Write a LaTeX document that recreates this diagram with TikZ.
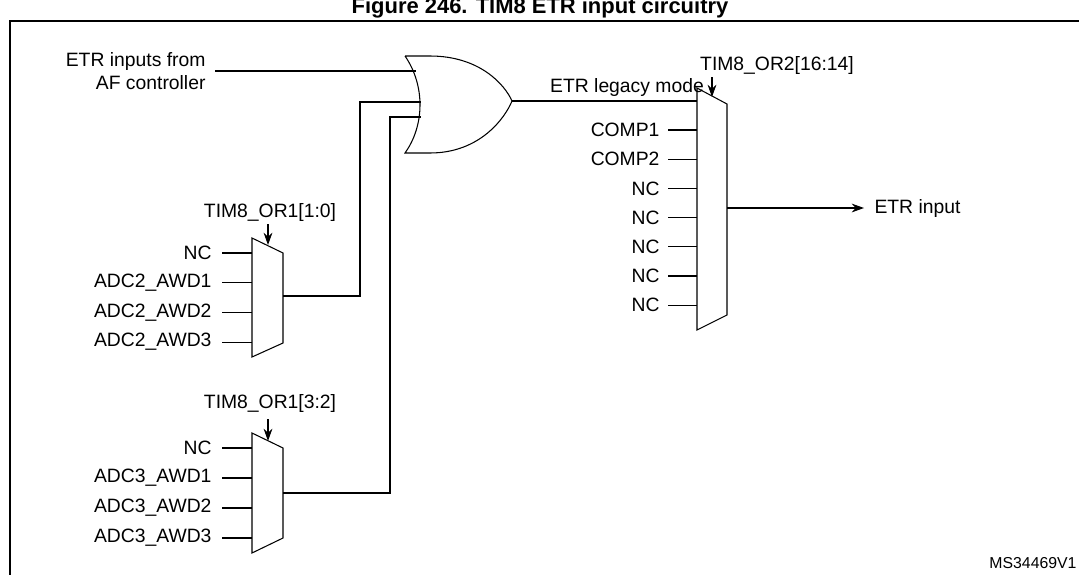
\documentclass[tikz,border=0pt]{standalone}
\usepackage{fontspec}
\setmainfont{Liberation Sans}
\usetikzlibrary{arrows.meta}
\usetikzlibrary{positioning}
\tikzset{
  lbl/.style={anchor=east, inner sep=0pt, font=\fontsize{11}{13}\selectfont},
  txt/.style={inner sep=0pt, font=\fontsize{11}{13}\selectfont},
  sel/.style={-{Stealth[length=7pt,width=5pt]}},
}
\begin{document}
\begin{tikzpicture}[x=0.02cm,y=-0.02cm,line width=0.6pt]
  \useasboundingbox (0,0) rectangle (1079,575);

  % ---------- Frame and title ----------
  \node[inner sep=0pt, font=\bfseries\fontsize{12.5}{15}\selectfont] (title) at (540,8) {Figure 246. TIM8 ETR input circuitry};
  \draw[line width=1.2pt] (10,1090) -- (10,21) -- (1100,21);
  \node[anchor=east, inner sep=0pt, font=\fontsize{9}{10}\selectfont] (ref) at (1077,563) {MS34469V1};

  % ---------- OR gate ----------
  \draw (405,56) -- (430,56) .. controls (480,56) and (505,85) .. (512,101)
        .. controls (505,118) and (480,153) .. (430,153) -- (405,153)
        .. controls (425,125) and (425,85) .. (405,56);
  \coordinate (orin1) at (416,71);
  \coordinate (orin2) at (421,102);
  \coordinate (orin3) at (421,117);
  \coordinate (orout) at (512,101);

  \node[lbl] (etrin) at (206,62) {ETR inputs from};
  \node[lbl] (afc) at (206,83) {AF controller};
  \draw (215,71) -- (orin1);

  % ---------- Mux 1 ----------
  \draw (252,238) -- (283,253) -- (283,343) -- (252,357) -- cycle;
  \node[txt] (sel1) at (270,212) {TIM8\_OR1[1:0]};
  \draw[sel] (268,224) -- (268,245);
  \foreach \t [count=\i from 0] in {NC,ADC2\_AWD1,ADC2\_AWD2,ADC2\_AWD3} {
    \node[lbl] (ma\i) at (212,253+29.7*\i) {\t};
    \draw (222,253+29.7*\i) -- (252,253+29.7*\i);
  }
  \coordinate (mux1out) at (283,296);
  \draw (mux1out) -| (360,102) -- (orin2);

  % ---------- Mux 2 ----------
  \draw (252,433) -- (283,448) -- (283,538) -- (252,553) -- cycle;
  \node[txt] (sel2) at (270,403) {TIM8\_OR1[3:2]};
  \draw[sel] (268,419) -- (268,441);
  \foreach \t [count=\i from 0] in {NC,ADC3\_AWD1,ADC3\_AWD2,ADC3\_AWD3} {
    \node[lbl] (mb\i) at (212,448+30*\i) {\t};
    \draw (222,448+30*\i) -- (252,448+30*\i);
  }
  \coordinate (mux2out) at (283,493);
  \draw (mux2out) -| (390,117) -- (orin3);

  % ---------- Mux 3 ----------
  \draw (697,88) -- (727,104) -- (727,315) -- (697,330) -- cycle;
  \node[txt] (sel3) at (777,66) {TIM8\_OR2[16:14]};
  \draw[sel] (712,77) -- (712,97);
  \node[txt] (legacy) at (627,88) {ETR legacy mode};
  \draw (orout) -- (697,101);
  \foreach \t [count=\i from 0] in {COMP1,COMP2,NC,NC,NC,NC,NC} {
    \node[lbl] (mc\i) at (660,130+29.2*\i) {\t};
    \draw (668,130+29.2*\i) -- (697,130+29.2*\i);
  }
  \coordinate (mux3out) at (727,208);
  \node[txt, anchor=west] (etrout) at (874,208) {ETR input};
  \draw[sel] (mux3out) -- (864,208);
\end{tikzpicture}
\end{document}
